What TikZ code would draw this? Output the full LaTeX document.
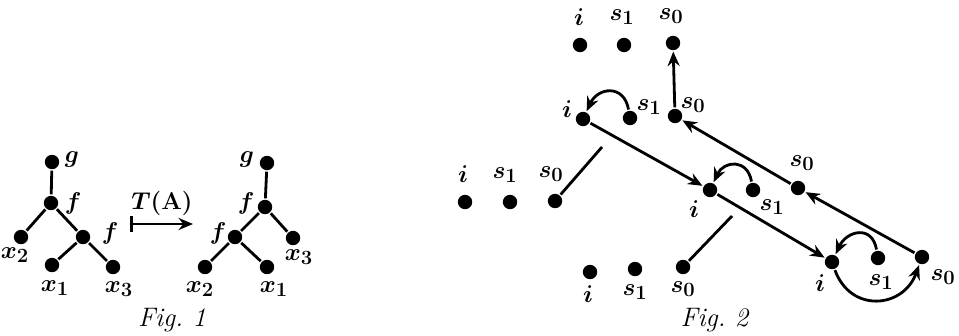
\documentclass[tikz,border=0pt]{standalone}
\usepackage{amsmath,amssymb}
\usetikzlibrary{arrows.meta}

\begin{document}
\begin{tikzpicture}[x=0.025cm, y=-0.025cm, every node/.style={font=\fontsize{19}{22}\selectfont\boldmath}, >={Stealth[length=3.6mm, width=3mm]}, line width=2pt, dot/.style={circle, fill, inner sep=0pt, minimum size=3.6mm}]
	\useasboundingbox (0,0) rectangle (959,335);
	% Fig. 1, left tree
	\node[dot] (g1) at (52,162) {};
	\node[dot] (fa1) at (51,203) {};
	\node[dot] (xb1) at (21,237) {};
	\node[dot] (fb1) at (83,237) {};
	\node[dot] (xa1) at (52,265) {};
	\node[dot] (xc1) at (113,267) {};
	\draw (g1) -- (fa1);
	\draw (fa1) -- (xb1);
	\draw (fa1) -- (fb1);
	\draw (fb1) -- (xa1);
	\draw (fb1) -- (xc1);
	\node (lg1) at (72,159) {$g$};
	\node (lfa1) at (73,203) {$f$};
	\node (lfb1) at (110,233) {$f$};
	\node (lxb1) at (15,255) {$x_2$};
	\node (lxa1) at (55,288) {$x_1$};
	\node (lxc1) at (119,289) {$x_3$};
	% the map
	\coordinate (ta) at (130,224);
	\coordinate (tb) at (193,224);
	\draw[|->] (ta) -- (tb);
	\node (tlab) at (162,203) {$T(\mathbf{A})$};
	% Fig. 1, right tree
	\node[dot] (g2) at (267,163) {};
	\node[dot] (fa2) at (265,207) {};
	\node[dot] (fb2) at (235,237) {};
	\node[dot] (xc2) at (293,238) {};
	\node[dot] (xb2) at (205,267) {};
	\node[dot] (xa2) at (267,267) {};
	\draw (g2) -- (fa2);
	\draw (fa2) -- (fb2);
	\draw (fa2) -- (xc2);
	\draw (fb2) -- (xb2);
	\draw (fb2) -- (xa2);
	\node (lg2) at (247,159) {$g$};
	\node (lfa2) at (246,203) {$f$};
	\node (lfb2) at (218,233) {$f$};
	\node (lxc2) at (299,257) {$x_3$};
	\node (lxb2) at (200,289) {$x_2$};
	\node (lxa2) at (274,289) {$x_1$};
	\node (cap1) at (172,320) {\textit{Fig.~1}};
	% Fig. 2, top row
	\node[dot] (it) at (580,45) {};
	\node[dot] (st) at (624,45) {};
	\node[dot] (zt) at (673,43) {};
	\node (lit) at (579,17) {$i$};
	\node (lst) at (622,17) {$s_1$};
	\node (lzt) at (671,16) {$s_0$};
	% first configuration
	\node[dot] (ia) at (583,119) {};
	\node[dot] (sa) at (630,118) {};
	\node[dot] (za) at (675,116) {};
	\node (lia) at (567,109) {$i$};
	\node (lsa) at (649,107) {$s_1$};
	\node (lza) at (693,105) {$s_0$};
	\draw[->] (sa) to[out=100, in=65, looseness=1.6] (ia);
	% second configuration
	\node[dot] (ib) at (710,190) {};
	\node[dot] (sb) at (753,190) {};
	\node[dot] (zb) at (798,188) {};
	\node (lib) at (694,209) {$i$};
	\node (lsb) at (772,207) {$s_1$};
	\node (lzb) at (802,163) {$s_0$};
	\draw[->] (sb) to[out=100, in=65, looseness=1.6] (ib);
	% third configuration
	\node[dot] (ic) at (832,262) {};
	\node[dot] (sc) at (878,258) {};
	\node[dot] (zc) at (922,257) {};
	\node (lic) at (820,283) {$i$};
	\node (lsc) at (881,282) {$s_1$};
	\node (lzc) at (943,277) {$s_0$};
	\draw[->] (sc) to[out=100, in=65, looseness=1.6] (ic);
	\draw[->] (ic) to[out=-70, in=-110, looseness=1.4] (zc);
	% the run
	\draw[->] (ia) -- (ib);
	\draw[->] (ib) -- (ic);
	\draw[->] (zc) -- (zb);
	\draw[->] (zb) -- (za);
	\draw[->] (za) -- (zt);
	% left row
	\node[dot] (il) at (465,202) {};
	\node[dot] (sl) at (510,202) {};
	\node[dot] (zl) at (555,201) {};
	\node (lil) at (463,174) {$i$};
	\node (lsl) at (505,175) {$s_1$};
	\node (lzl) at (551,174) {$s_0$};
	\coordinate (pl) at (602,147);
	\draw (zl) -- (pl);
	% bottom row
	\node[dot] (iu) at (590,272) {};
	\node[dot] (su) at (635,269) {};
	\node[dot] (zu) at (683,267) {};
	\node (liu) at (588,294) {$i$};
	\node (lsu) at (635,292) {$s_1$};
	\node (lzu) at (683,289) {$s_0$};
	\coordinate (pu) at (732,216);
	\draw (zu) -- (pu);
	\node (cap2) at (715,320) {\textit{Fig.~2}};
\end{tikzpicture}
\end{document}
